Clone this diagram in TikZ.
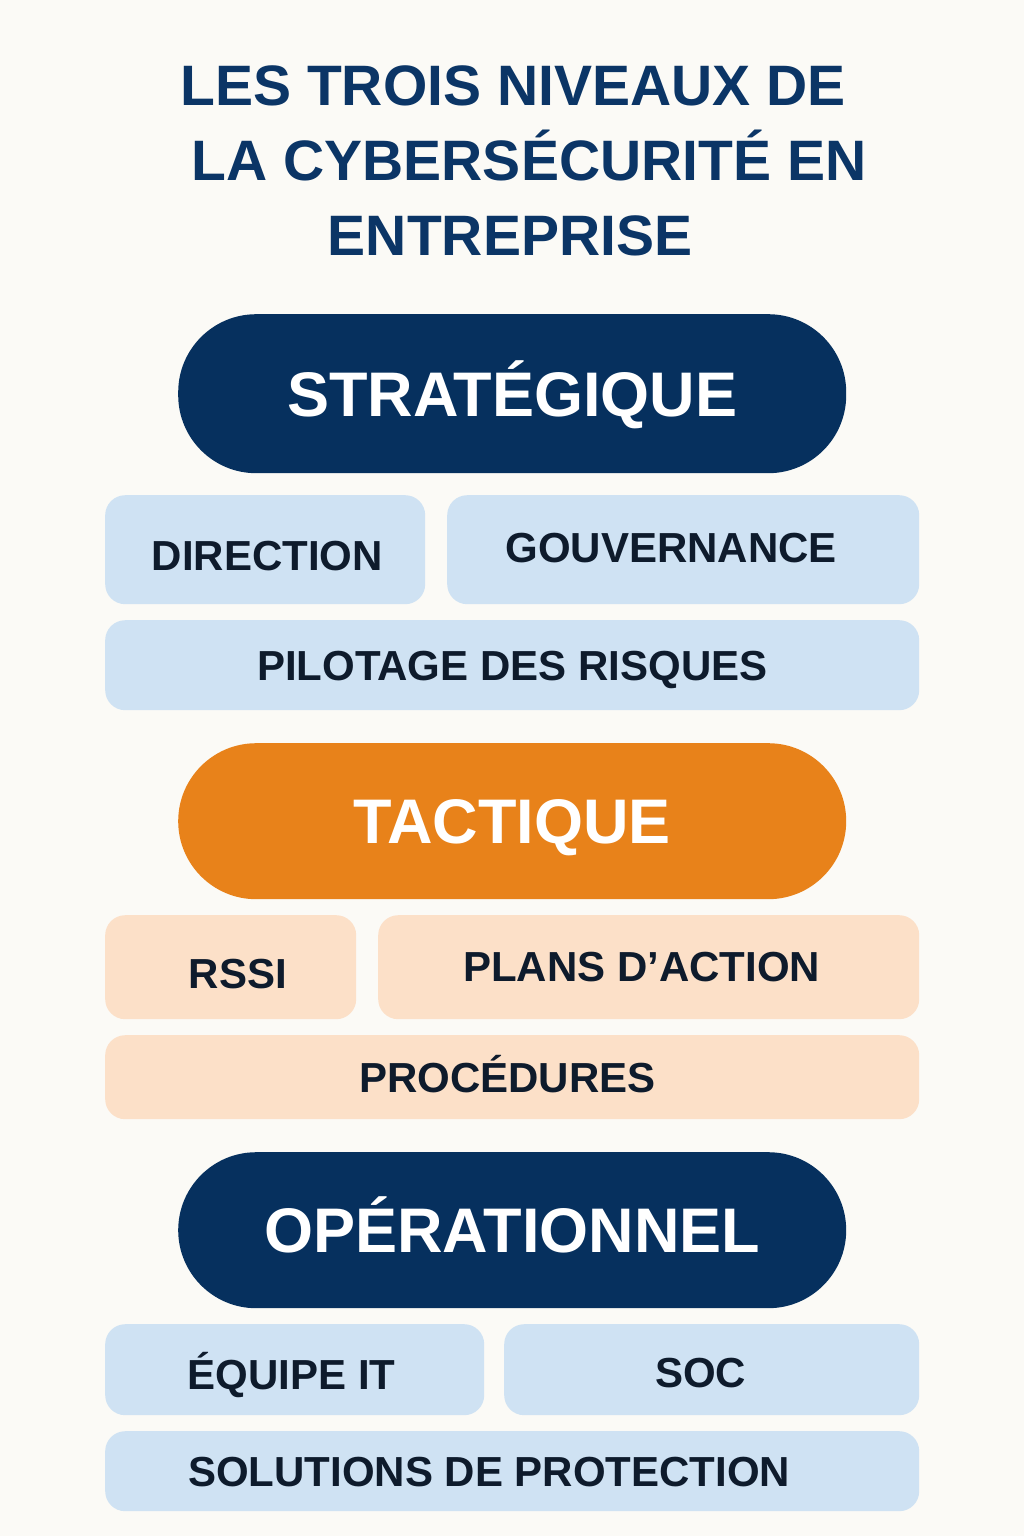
\documentclass[tikz,border=0pt]{standalone}
\usepackage{fontspec}
\setmainfont{Liberation Sans}
\usetikzlibrary{positioning}
\definecolor{paper}{HTML}{FBFAF6}
\definecolor{navy}{HTML}{06305E}
\definecolor{titleblue}{HTML}{0B3566}
\definecolor{tacorange}{HTML}{E8821A}
\definecolor{skyfill}{HTML}{CFE2F3}
\definecolor{peachfill}{HTML}{FCE0C8}
\definecolor{inkdark}{HTML}{0E1B2C}
\newcommand{\nudged}[3]{\raisebox{#2}{\kern#1#3\kern-#1}}

\begin{document}
\begin{tikzpicture}[x=1pt, y=-1pt,
    heading/.style={text=titleblue, inner sep=0pt, text height=41pt, text depth=0pt,
        font=\fontsize{57}{57}\selectfont\bfseries},
    level/.style={anchor=north west, rounded corners=78pt, inner sep=0pt, text=white,
        minimum width=668pt, text height=45pt, text depth=0pt,
        font=\fontsize{63}{63}\selectfont\bfseries},
    item/.style={anchor=north west, rounded corners=20pt, inner sep=0pt, text=inkdark,
        text height=30pt, text depth=0pt, font=\fontsize{42}{42}\selectfont\bfseries},
    sky/.style={item, fill=skyfill},
    peach/.style={item, fill=peachfill},]

\useasboundingbox[fill=paper] (0,0) rectangle (1024,1536);

% title
\node[heading] (title1) at (513,85) {LES TROIS NIVEAUX DE};
\node[heading] (title2) at (529,160) {LA CYBERSÉCURITÉ EN};
\node[heading] (title3) at (510,235) {ENTREPRISE};

% strategique
\node[level, fill=navy, minimum height=159pt] (strat) at (178,314) {STRATÉGIQUE};
\node[sky, minimum width=320pt, minimum height=109pt] (direction) at (105,495) {\nudged{2pt}{-6pt}{DIRECTION}};
\node[sky, minimum width=472pt, minimum height=109pt] (gouv) at (447,495) {\nudged{-12pt}{2pt}{GOUVERNANCE}};
\node[sky, minimum width=814pt, minimum height=90pt] (pilotage) at (105,620) {PILOTAGE DES RISQUES};

% tactique
\node[level, fill=tacorange, minimum height=156pt] (tact) at (178,743) {TACTIQUE};
\node[peach, minimum width=251pt, minimum height=104pt] (rssi) at (105,915) {\nudged{7pt}{-6pt}{RSSI}};
\node[peach, minimum width=541pt, minimum height=104pt] (plans) at (378,915) {\nudged{-7pt}{1pt}{PLANS D’ACTION}};
\node[peach, minimum width=814pt, minimum height=84pt] (proc) at (105,1035) {\nudged{-5pt}{0pt}{PROCÉDURES}};

% operationnel
\node[level, fill=navy, minimum height=156pt] (oper) at (178,1152) {OPÉRATIONNEL};
\node[sky, minimum width=379pt, minimum height=91pt] (equipe) at (105,1324) {\nudged{-3pt}{-5pt}{ÉQUIPE IT}};
\node[sky, minimum width=415pt, minimum height=91pt] (soc) at (504,1324) {\nudged{-11pt}{-3pt}{SOC}};
\node[sky, minimum width=814pt, minimum height=80pt] (solutions) at (105,1431) {\nudged{-23pt}{0pt}{SOLUTIONS DE PROTECTION}};
\end{tikzpicture}
\end{document}
